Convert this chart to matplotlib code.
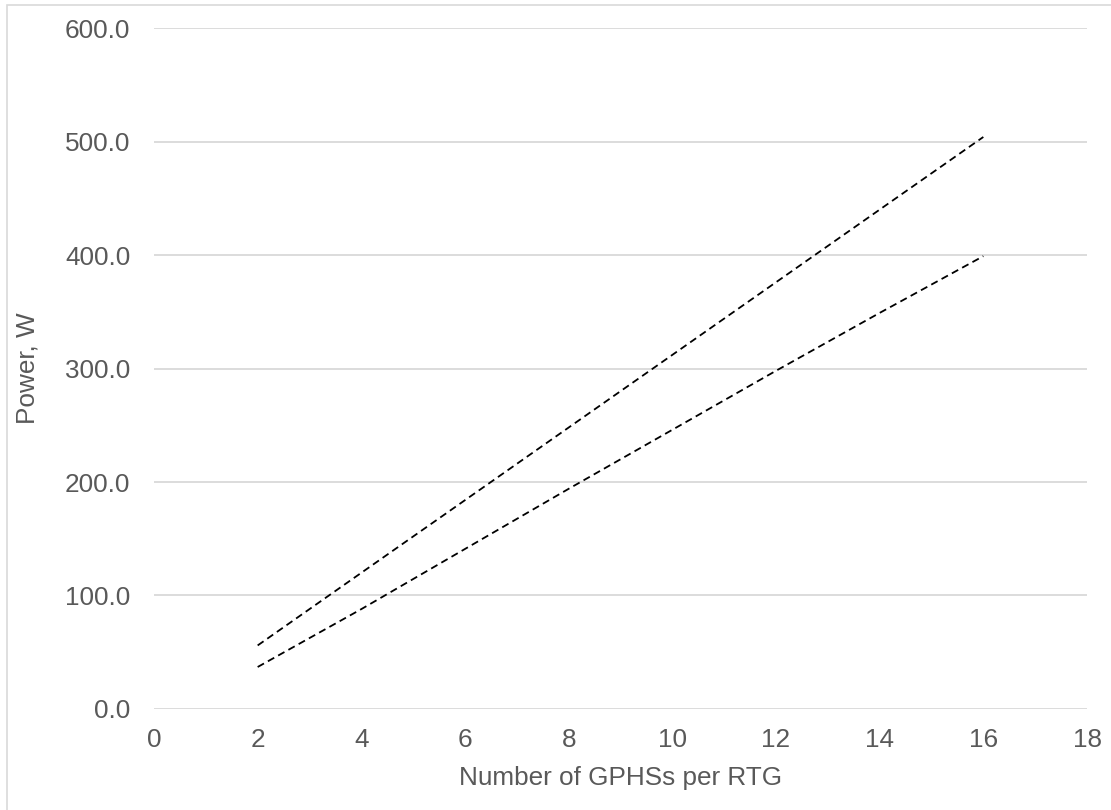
import matplotlib
matplotlib.use('Agg')
import matplotlib.pyplot as plt
from matplotlib.patches import Rectangle

# data
gphs = [2, 4, 6, 8, 10, 12, 14, 16]
power_upper = [56, 120, 184, 248, 312, 376, 440, 504]
power_lower = [37, 88, 141, 194, 246, 298, 349, 399]

x_ticks = [0, 2, 4, 6, 8, 10, 12, 14, 16, 18]
y_ticks = [0, 100, 200, 300, 400, 500, 600]

TXT = '#595959'
GRID = '#D9D9D9'

plt.rcParams['font.family'] = ['Liberation Sans', 'DejaVu Sans']
plt.rcParams['font.size'] = 18.8

fig = plt.figure(figsize=(11.11, 8.10), dpi=100)
ax = fig.add_axes([0.1386, 0.1247, 0.8398, 0.8407])

# light frame round the chart area (right and bottom edges fall off the image)
top = 1 - 5 / 810
fig.patches.append(Rectangle((7 / 1111, -0.2), 2.0, top + 0.2,
                             transform=fig.transFigure, fill=False,
                             edgecolor=GRID, linewidth=1.2))

ax.plot(gphs, power_upper, color='black', linewidth=1.3, linestyle=(0, (4, 2.5)))
ax.plot(gphs, power_lower, color='black', linewidth=1.3, linestyle=(0, (4, 2.5)))

ax.set_xlim(0, 18)
ax.set_ylim(0, 600)
ax.set_xticks(x_ticks)
ax.set_yticks(y_ticks)
ax.set_yticklabels(['%.1f' % v for v in y_ticks])
ax.grid(axis='y', color=GRID, linewidth=1.3)
ax.set_axisbelow(True)
for s in ax.spines.values():
    s.set_visible(False)
ax.tick_params(axis='both', length=0, colors=TXT)
ax.tick_params(axis='y', pad=17)
ax.tick_params(axis='x', pad=14)

ax.set_xlabel('Number of GPHSs per RTG', color=TXT, labelpad=10)
ax.set_ylabel('Power, W', color=TXT, labelpad=18)

fig.savefig('out.png', dpi=100)
